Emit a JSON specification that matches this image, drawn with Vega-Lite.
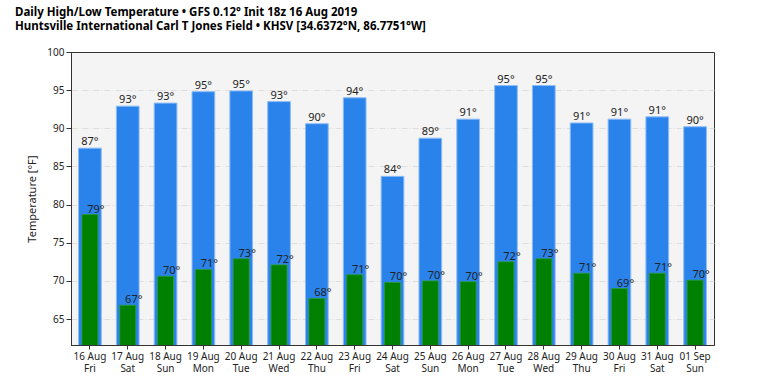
{
  "$schema": "https://vega.github.io/schema/vega-lite/v6.json",
  "width": 643,
  "height": 293,
  "autosize": {"type": "none"},
  "padding": {"left": 71, "top": 52, "right": 56, "bottom": 37},
  "background": "white",
  "config": {
    "font": "Noto Sans",
    "view": {"fill": "#f4f4f4", "stroke": "#333333", "strokeWidth": 1}
  },
  "title": {
    "text": ["Daily High/Low Temperature • GFS 0.12° Init 18z 16 Aug 2019", "Huntsville International Carl T Jones Field • KHSV [34.6372°N, 86.7751°W]"],
    "anchor": "start",
    "frame": "group",
    "dx": -56,
    "offset": 15,
    "fontSize": 11.5,
    "lineHeight": 14,
    "font": "Noto Sans",
    "fontWeight": "bold",
    "color": "#000000"
  },
  "data": {
    "values": [
      {"day": "16 Aug|Fri", "high": 87.4, "low": 78.7, "hiL": "87°", "loL": "79°"},
      {"day": "17 Aug|Sat", "high": 92.9, "low": 66.8, "hiL": "93°", "loL": "67°"},
      {"day": "18 Aug|Sun", "high": 93.3, "low": 70.6, "hiL": "93°", "loL": "70°"},
      {"day": "19 Aug|Mon", "high": 94.8, "low": 71.5, "hiL": "95°", "loL": "71°"},
      {"day": "20 Aug|Tue", "high": 94.9, "low": 72.9, "hiL": "95°", "loL": "73°"},
      {"day": "21 Aug|Wed", "high": 93.5, "low": 72.1, "hiL": "93°", "loL": "72°"},
      {"day": "22 Aug|Thu", "high": 90.6, "low": 67.7, "hiL": "90°", "loL": "68°"},
      {"day": "23 Aug|Fri", "high": 94.0, "low": 70.8, "hiL": "94°", "loL": "71°"},
      {"day": "24 Aug|Sat", "high": 83.7, "low": 69.8, "hiL": "84°", "loL": "70°"},
      {"day": "25 Aug|Sun", "high": 88.7, "low": 70.0, "hiL": "89°", "loL": "70°"},
      {"day": "26 Aug|Mon", "high": 91.2, "low": 69.9, "hiL": "91°", "loL": "70°"},
      {"day": "27 Aug|Tue", "high": 95.6, "low": 72.5, "hiL": "95°", "loL": "72°"},
      {"day": "28 Aug|Wed", "high": 95.6, "low": 72.9, "hiL": "95°", "loL": "73°"},
      {"day": "29 Aug|Thu", "high": 90.7, "low": 71.0, "hiL": "91°", "loL": "71°"},
      {"day": "30 Aug|Fri", "high": 91.2, "low": 69.0, "hiL": "91°", "loL": "69°"},
      {"day": "31 Aug|Sat", "high": 91.5, "low": 71.0, "hiL": "91°", "loL": "71°"},
      {"day": "01 Sep|Sun", "high": 90.2, "low": 70.1, "hiL": "90°", "loL": "70°"}
    ]
  },
  "encoding": {
    "x": {
      "field": "day",
      "type": "ordinal",
      "sort": null,
      "scale": {"paddingInner": 0, "paddingOuter": 0},
      "axis": {
        "title": null,
        "labelAngle": 0,
        "labelExpr": "split(datum.label, '|')",
        "labelFontSize": 10,
        "labelColor": "#222222",
        "labelLineHeight": 12.5,
        "labelPadding": 2,
        "tickSize": 4,
        "tickColor": "#333333",
        "domainColor": "#333333",
        "grid": false
      }
    }
  },
  "layer": [
    {
      "mark": {"type": "bar", "color": "#2a82eb", "stroke": "#8cbcf5", "strokeWidth": 1, "width": {"band": 0.6}, "clip": true},
      "encoding": {
        "y": {
          "field": "high",
          "type": "quantitative",
          "scale": {"domain": [61.6, 100], "nice": false, "zero": false},
          "axis": {
            "title": "Temperature [°F]",
            "titleFontSize": 11,
            "titleFontWeight": "normal",
            "titleColor": "#222222",
            "titlePadding": 9,
            "values": [65, 70, 75, 80, 85, 90, 95, 100],
            "labelFontSize": 10,
            "labelColor": "#222222",
            "labelPadding": 2,
            "tickSize": 5,
            "tickColor": "#333333",
            "domainColor": "#333333",
            "grid": true,
            "gridColor": "#d8d8d8",
            "gridDash": [6, 2, 1, 2],
            "gridWidth": 0.8,
            "gridOpacity": {"condition": {"test": "datum.value == 100", "value": 0}, "value": 1}
          }
        }
      }
    },
    {
      "mark": {"type": "text", "baseline": "bottom", "dy": -1, "fontSize": 11, "color": "#222222"},
      "encoding": {
        "y": {"field": "high", "type": "quantitative"},
        "text": {"field": "hiL"}
      }
    },
    {
      "mark": {"type": "bar", "color": "#008000", "stroke": "#2f9a2f", "strokeWidth": 0.8, "width": {"band": 0.42}, "clip": true},
      "encoding": {
        "y": {"field": "low", "type": "quantitative"}
      }
    },
    {
      "mark": {"type": "text", "baseline": "bottom", "dy": 0, "dx": 6, "fontSize": 11, "color": "#222222"},
      "encoding": {
        "y": {"field": "low", "type": "quantitative"},
        "text": {"field": "loL"}
      }
    }
  ]
}
